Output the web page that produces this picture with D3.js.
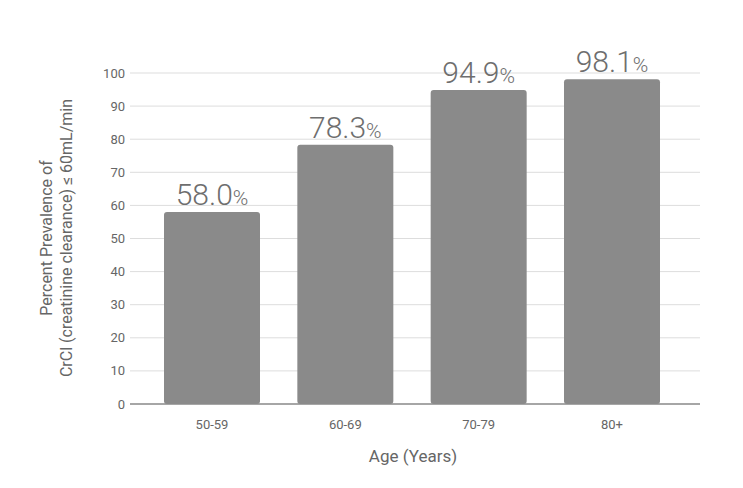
<!DOCTYPE html>
<html><head><meta charset="utf-8">
<script src="https://cdn.jsdelivr.net/npm/d3@7"></script>
<style>body{margin:0;background:#fff}text{font-family:Roboto,"DejaVu Sans",sans-serif}</style>
</head><body><svg id="c" width="743" height="488"></svg>
<script>
var categories = ["50-59", "60-69", "70-79", "80+"];
var values = [58.0, 78.3, 94.9, 98.1];
var ticks = [0, 10, 20, 30, 40, 50, 60, 70, 80, 90, 100];

var svg = d3.select("#c");
var x = d3.scaleBand().domain(categories).range([144, 680]).paddingInner(0.28).paddingOuter(0.15);
var y = d3.scaleLinear().domain([0, 100]).range([404, 73]);

// gridlines
svg.selectAll("line.grid").data(ticks).enter().append("line")
    .attr("x1", 130).attr("x2", 700)
    .attr("y1", d => y(d)).attr("y2", d => y(d))
    .attr("stroke", d => d == 0 ? "#888" : "#ddd").attr("stroke-width", d => d == 0 ? 1.5 : 1);

svg.selectAll("text.tick").data(ticks).enter().append("text")
    .attr("x", 125).attr("y", d => y(d)).attr("dy", "0.35em")
    .attr("text-anchor", "end").attr("font-size", 13).attr("fill", "#666").text(d => d);

svg.selectAll("rect.bar").data(values).enter().append("rect")
    .attr("x", (d, i) => x(categories[i])).attr("width", x.bandwidth())
    .attr("y", d => y(d)).attr("height", d => y(0) - y(d))
    .attr("rx", 3).attr("fill", "#8a8a8a");

var lab = svg.selectAll("text.val").data(values).enter().append("text")
    .attr("x", (d, i) => x(categories[i]) + x.bandwidth() / 2).attr("y", d => y(d) - 7)
    .attr("text-anchor", "middle").attr("fill", "#6e6e6e").attr("font-weight", 300);
lab.append("tspan").attr("font-size", 30).text(d => d.toFixed(1));
lab.append("tspan").attr("font-size", 21).text("%");

svg.selectAll("text.cat").data(categories).enter().append("text")
    .attr("x", d => x(d) + x.bandwidth() / 2).attr("y", 429)
    .attr("text-anchor", "middle").attr("font-size", 13).attr("fill", "#666").text(d => d);

svg.append("text").attr("x", 413).attr("y", 462).attr("text-anchor", "middle")
    .attr("font-size", 17).attr("fill", "#666").text("Age (Years)");

var yl = svg.append("text").attr("transform", "translate(52,238) rotate(-90)")
    .attr("text-anchor", "middle").attr("font-size", 16).attr("fill", "#666");
yl.append("tspan").attr("x", 0).attr("dy", 0).text("Percent Prevalence of");
yl.append("tspan").attr("x", 0).attr("dy", 20).text("CrCl (creatinine clearance) ≤ 60mL/min");
</script></body></html>
